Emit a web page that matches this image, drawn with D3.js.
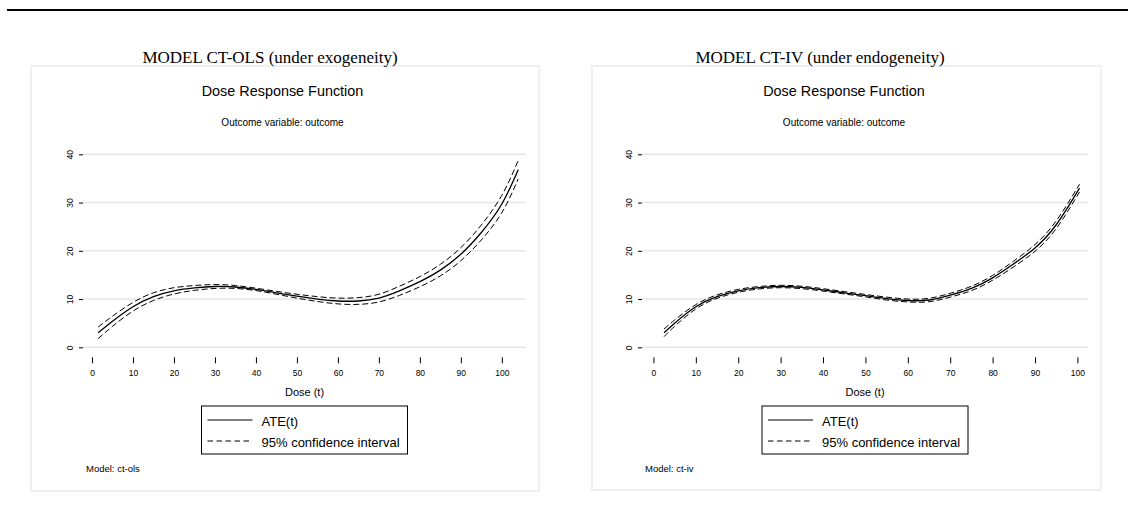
<!DOCTYPE html>
<html>
<head>
<meta charset="utf-8">
<script src="https://cdn.jsdelivr.net/npm/d3@7"></script>
<style>
  html, body { margin: 0; padding: 0; background: #fff; }
  svg { display: block; }
</style>
</head>
<body>
<svg id="chart" width="1128" height="526"></svg>
<script>
// Values.
const panelTitles = ['MODEL CT-OLS (under exogeneity)', 'MODEL CT-IV (under endogeneity)'];
const modelNotes = ['Model: ct-ols', 'Model: ct-iv'];
const yTicks = [0, 10, 20, 30, 40];
const xTicks = [0, 10, 20, 30, 40, 50, 60, 70, 80, 90, 100];
const legendLabels = ['ATE(t)', '95% confidence interval'];

const olsDose = [1.5, 5, 10, 15, 20, 25, 30, 35, 40, 45, 50, 55, 60, 65, 70, 75, 80, 85, 90, 95, 100, 104];
const olsAte = [3.0, 5.4, 8.4, 10.5, 11.7, 12.3, 12.6, 12.5, 12.0, 11.3, 10.6, 10.0, 9.6, 9.6, 10.2, 11.7, 13.6, 16.0, 19.3, 23.8, 29.7, 36.8];
const olsUpper = [4.2, 6.45, 9.3, 11.3, 12.35, 12.8, 13.0, 12.8, 12.25, 11.6, 11.0, 10.5, 10.2, 10.3, 11.0, 12.65, 14.65, 17.2, 20.65, 25.35, 31.5, 38.7];
const olsLower = [1.8, 4.35, 7.5, 9.7, 11.05, 11.8, 12.2, 12.2, 11.75, 11.0, 10.2, 9.5, 9.0, 8.9, 9.4, 10.75, 12.55, 14.8, 17.95, 22.25, 27.9, 34.9];

const ivDose = [2.5, 5, 10, 15, 20, 25, 30, 35, 40, 45, 50, 55, 60, 65, 70, 75, 80, 85, 90, 95, 100.5];
const ivAte = [3.0, 5.0, 8.4, 10.5, 11.7, 12.35, 12.6, 12.4, 11.9, 11.3, 10.7, 10.1, 9.7, 9.8, 10.8, 12.2, 14.4, 17.3, 20.6, 25.4, 33.0];
const ivUpper = [3.8, 5.65, 8.85, 10.85, 12.0, 12.6, 12.85, 12.65, 12.15, 11.55, 10.95, 10.4, 10.0, 10.15, 11.2, 12.65, 14.9, 17.9, 21.3, 26.2, 33.8];
const ivLower = [2.2, 4.35, 7.95, 10.15, 11.4, 12.1, 12.35, 12.15, 11.65, 11.05, 10.45, 9.8, 9.4, 9.45, 10.4, 11.75, 13.9, 16.7, 19.9, 24.6, 32.2];

const svg = d3.select('#chart');
const SANS = 'Arial, "Liberation Sans", Helvetica, sans-serif';
const SERIF = '"Times New Roman", "Liberation Serif", serif';

// thick rule across the top of the page
svg.append('line')
  .attr('x1', 7).attr('x2', 1128).attr('y1', 10).attr('y2', 10)
  .attr('stroke', '#000').attr('stroke-width', 2);

// layout of each panel (pixels)
const panels = [
  {
    title: panelTitles[0], note: modelNotes[0], titleX: 270,
    box: [31, 66, 539, 491], plotX: [83, 526], xDomain: [-2.2, 105.9],
    dose: olsDose, ate: olsAte, upper: olsUpper, lower: olsLower,
  },
  {
    title: panelTitles[1], note: modelNotes[1], titleX: 820,
    box: [592, 66, 1101, 490], plotX: [642, 1088], xDomain: [-2.7, 102.5],
    dose: ivDose, ate: ivAte, upper: ivUpper, lower: ivLower,
  },
];

panels.forEach(drawPanel);

function drawPanel(p) {
  const g = svg.append('g');
  const [bx0, by0, bx1, by1] = p.box;

  g.append('rect')
    .attr('x', bx0).attr('y', by0)
    .attr('width', bx1 - bx0).attr('height', by1 - by0)
    .attr('fill', '#fff').attr('stroke', '#ebebeb').attr('stroke-width', 1.5);

  g.append('text')
    .attr('x', p.titleX).attr('y', 63)
    .attr('text-anchor', 'middle')
    .style('font-family', SERIF).style('font-size', '17px')
    .text(p.title);

  const boxCx = (bx0 + bx1) / 2 - 2.5;
  g.append('text')
    .attr('x', boxCx).attr('y', 96)
    .attr('text-anchor', 'middle')
    .style('font-family', SANS).style('font-size', '14.4px')
    .text('Dose Response Function');

  g.append('text')
    .attr('x', boxCx).attr('y', 126)
    .attr('text-anchor', 'middle')
    .style('font-family', SANS).style('font-size', '10px')
    .text('Outcome variable: outcome');

  const x = d3.scaleLinear().domain(p.xDomain).range(p.plotX);
  const y = d3.scaleLinear().domain([0, 40]).range([347.3, 154.3]);
  const [px0, px1] = p.plotX;

  // gridlines
  g.append('g').selectAll('line')
    .data(yTicks).join('line')
    .attr('x1', px0).attr('x2', px1)
    .attr('y1', (d) => y(d)).attr('y2', (d) => y(d))
    .attr('stroke', '#e6e6e6').attr('stroke-width', 1.5);

  // y axis: ticks + rotated labels
  const yAxis = g.append('g').attr('transform', `translate(${px0},0)`)
    .call(d3.axisLeft(y).tickValues(yTicks).tickSize(4).tickPadding(6));
  yAxis.select('.domain').remove();
  yAxis.selectAll('.tick line').attr('stroke', '#000').attr('stroke-width', 1);
  yAxis.selectAll('.tick text')
    .attr('x', null).attr('dy', null)
    .attr('text-anchor', 'middle')
    .attr('transform', 'translate(-10,0) rotate(-90)')
    .style('font-family', SANS).style('font-size', '8.5px').attr('fill', '#000');

  // x axis
  const xAxis = g.append('g').attr('transform', 'translate(0,357.3)')
    .call(d3.axisBottom(x).tickValues(xTicks).tickSize(6).tickPadding(0));
  xAxis.select('.domain').remove();
  xAxis.selectAll('.tick line').attr('stroke', '#000').attr('stroke-width', 1);
  xAxis.selectAll('.tick text')
    .attr('y', 19).attr('dy', null)
    .style('font-family', SANS).style('font-size', '8.5px').attr('fill', '#000');

  g.append('text')
    .attr('x', (px0 + px1) / 2).attr('y', 396)
    .attr('text-anchor', 'middle')
    .style('font-family', SANS).style('font-size', '11px')
    .text('Dose (t)');

  // curves
  const line = (vals) => d3.line()
    .x((d, i) => x(p.dose[i]))
    .y((d) => y(d))
    .curve(d3.curveNatural)(vals);

  [p.upper, p.lower].forEach((vals) => {
    g.append('path').attr('d', line(vals))
      .attr('fill', 'none').attr('stroke', '#000')
      .attr('stroke-width', 1).attr('stroke-dasharray', '6,3');
  });
  g.append('path').attr('d', line(p.ate))
    .attr('fill', 'none').attr('stroke', '#000').attr('stroke-width', 1.3);

  // legend
  const lcx = (px0 + px1) / 2;
  const lx0 = lcx - 103;
  const legend = g.append('g');
  legend.append('rect')
    .attr('x', lx0).attr('y', 406).attr('width', 206).attr('height', 48)
    .attr('fill', '#fff').attr('stroke', '#000').attr('stroke-width', 1);
  legendLabels.forEach((lab, i) => {
    const ly = 420 + i * 21;
    legend.append('line')
      .attr('x1', lx0 + 6).attr('x2', lx0 + 51)
      .attr('y1', ly).attr('y2', ly)
      .attr('stroke', '#000').attr('stroke-width', 1.2)
      .attr('stroke-dasharray', i === 0 ? null : '5.5,3.5');
    legend.append('text')
      .attr('x', lx0 + 60).attr('y', ly + 6)
      .style('font-family', SANS).style('font-size', '13px')
      .text(lab);
  });

  g.append('text')
    .attr('x', px0 + 3).attr('y', 471.5)
    .style('font-family', SANS).style('font-size', '9.5px')
    .text(p.note);
}
</script>
</body>
</html>
